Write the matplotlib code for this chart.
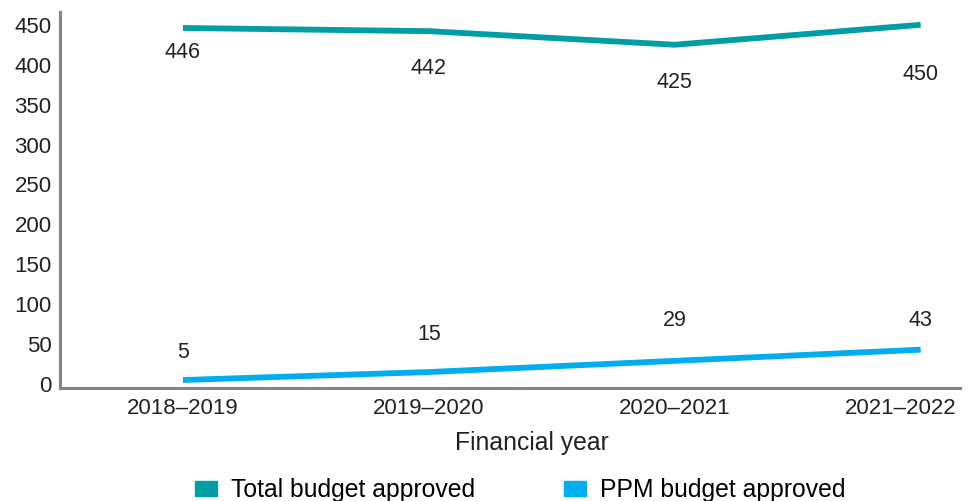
import matplotlib
matplotlib.use("Agg")
import matplotlib.pyplot as plt
from matplotlib.patches import Patch
from matplotlib.transforms import ScaledTranslation

plt.rcParams['font.family'] = ['Liberation Sans', 'DejaVu Sans']

years = ["2018–2019", "2019–2020", "2020–2021", "2021–2022"]
total_budget = [446, 442, 425, 450]
ppm_budget = [5, 15, 29, 43]
yticks = [0, 50, 100, 150, 200, 250, 300, 350, 400, 450]

teal = "#009DA5"
blue = "#00AEEF"
grey = "#7F858F"
txt = "#222222"

fig = plt.figure(figsize=(9.71, 5.01), dpi=100)
ax = fig.add_axes([60 / 971, 113 / 501, 900 / 971, 376 / 501])

x = range(len(years))
ax.plot(x, total_budget, color=teal, lw=4.2, solid_capstyle="butt")
ax.plot(x, ppm_budget, color=blue, lw=4.2, solid_capstyle="butt")

# labels: total below the line, ppm above (offsets in points)
total_off = [-18, -27, -27, -36]
ppm_off = [20, 27, 29, 21]
for i, v in enumerate(total_budget):
    ax.annotate(str(v), (i, v), xytext=(0, total_off[i]), textcoords="offset points",
                ha="center", va="center", fontsize=15.5, color=txt)
for i, v in enumerate(ppm_budget):
    ax.annotate(str(v), (i, v), xytext=(0, ppm_off[i]), textcoords="offset points",
                ha="center", va="center", fontsize=15.5, color=txt)

ax.set_xlim(-0.5, 3.16)
ax.set_ylim(-5, 466)
ax.set_xticks(list(x))
ax.set_xticklabels(years)
ax.set_yticks(yticks)
ax.tick_params(length=0, labelsize=16, colors=txt)
ax.tick_params(axis="y", pad=6)
ax.tick_params(axis="x", pad=7)
# last year label is pulled in so it fits the figure
last = ax.get_xticklabels()[-1]
last.set_transform(last.get_transform() + ScaledTranslation(-0.2, 0, fig.dpi_scale_trans))
for s in ["top", "right"]:
    ax.spines[s].set_visible(False)
for s in ["left", "bottom"]:
    ax.spines[s].set_color(grey)
    ax.spines[s].set_linewidth(2.2)

ax.set_xlabel("Financial year", fontsize=17.8, color=txt, labelpad=9)
ax.xaxis.label.set_x(0.524)

handles = [Patch(color=teal, label="Total budget approved"),
           Patch(color=blue, label="PPM budget approved")]
fig.legend(handles=handles, loc="lower center", bbox_to_anchor=(0.5355, -0.047), ncol=2,
           frameon=False, fontsize=17.8, handlelength=0.9, handleheight=0.6,
           columnspacing=3.6, handletextpad=0.55)

fig.savefig("out.png", dpi=100)
